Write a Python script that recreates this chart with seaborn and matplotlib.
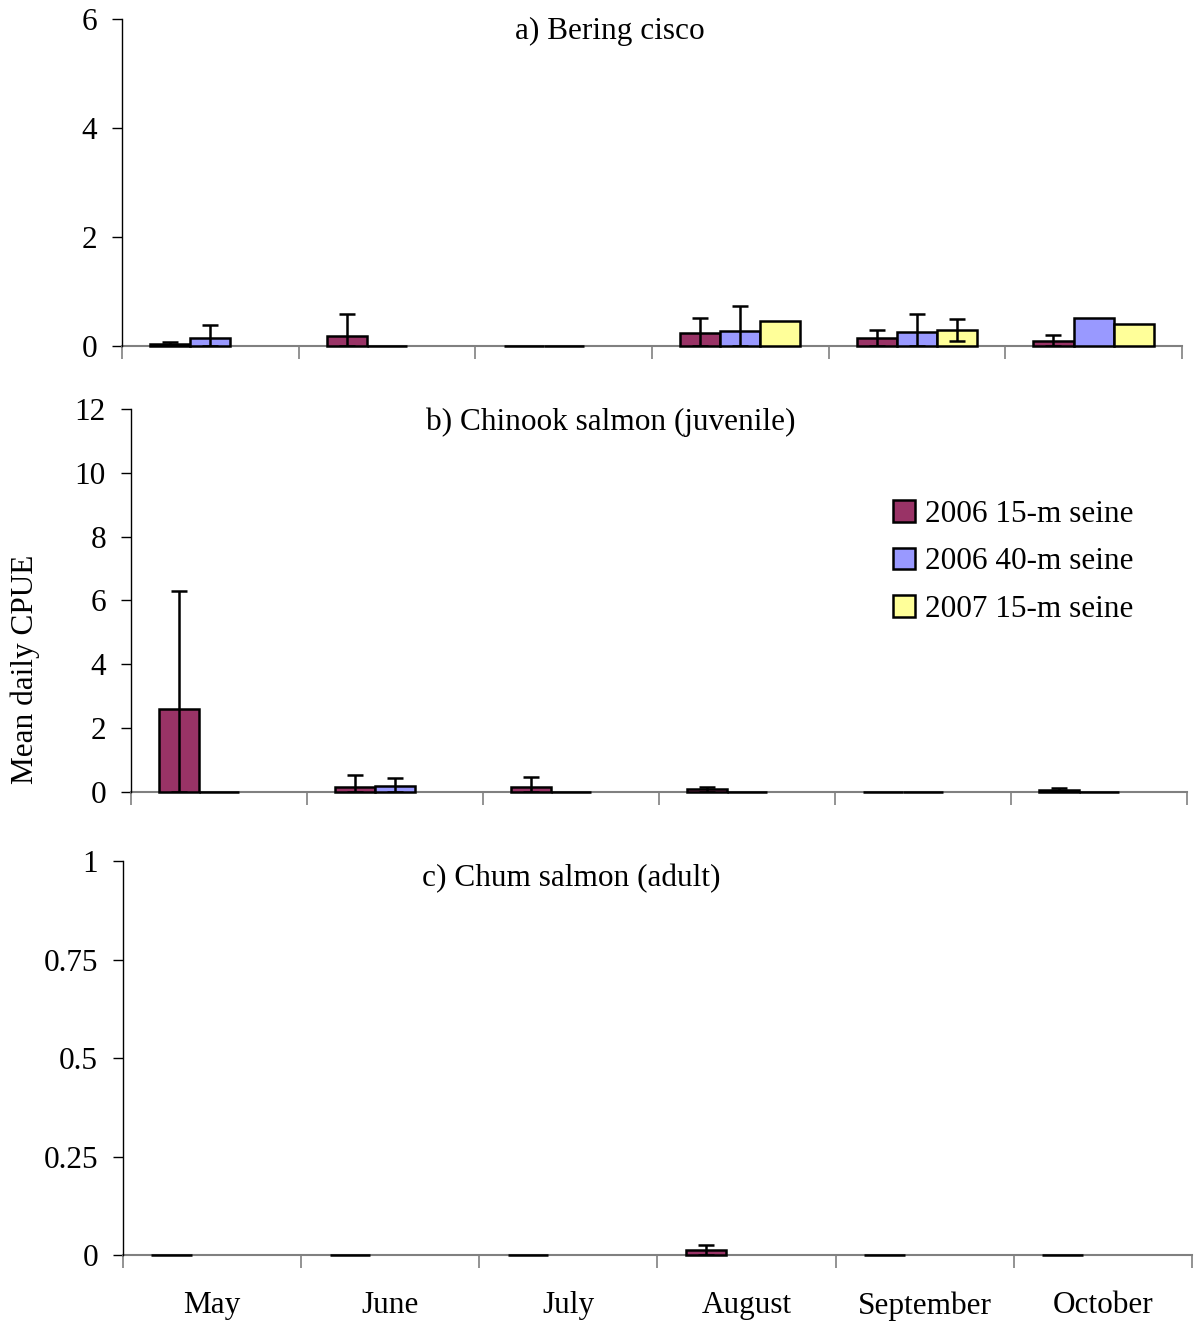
import numpy as np
import pandas as pd
import matplotlib
matplotlib.use("Agg")
import matplotlib.pyplot as plt
import matplotlib.colors as mcolors
import seaborn as sns

months = ["May", "June", "July", "August", "September", "October"]
series = ["2006 15-m seine", "2006 40-m seine", "2007 15-m seine"]
colors = ["#993366", "#9999FF", "#FFFF99"]
nan = np.nan

# a) Bering cisco
a_s1 = [0.04, 0.18, 0.0, 0.23, 0.15, 0.10]
a_s1_err = [0.035, 0.41, 0.0, 0.28, 0.15, 0.11]
a_s2 = [0.14, 0.0, 0.0, 0.28, 0.25, 0.52]
a_s2_err = [0.25, 0.0, 0.0, 0.46, 0.34, 0.0]
a_s3 = [nan, nan, nan, 0.45, 0.30, 0.41]
a_s3_err = [nan, nan, nan, 0.0, 0.20, 0.0]

# b) Chinook salmon (juvenile)
b_s1 = [2.6, 0.15, 0.14, 0.08, 0.0, 0.07]
b_s1_err = [3.7, 0.38, 0.32, 0.09, 0.0, 0.06]
b_s2 = [0.0, 0.18, 0.0, 0.0, 0.0, 0.0]
b_s2_err = [0.0, 0.27, 0.0, 0.0, 0.0, 0.0]
b_s3 = [nan, nan, nan, nan, nan, nan]
b_s3_err = [nan, nan, nan, nan, nan, nan]

# c) Chum salmon (adult)
c_s1 = [0.0, 0.0, 0.0, 0.013, 0.0, 0.0]
c_s1_err = [0.0, 0.0, 0.0, 0.012, 0.0, 0.0]
c_s2 = [nan] * 6
c_s2_err = [nan] * 6
c_s3 = [nan] * 6
c_s3_err = [nan] * 6

panels = [
    dict(title="a) Bering cisco", vals=[a_s1, a_s2, a_s3], errs=[a_s1_err, a_s2_err, a_s3_err],
         yticks=[0, 2, 4, 6], yticklabels=["0", "2", "4", "6"],
         pos=[0.1021, 0.7385, 0.8869, 0.2472], title_xy=(0.46, 0.962)),
    dict(title="b) Chinook salmon (juvenile)", vals=[b_s1, b_s2, b_s3], errs=[b_s1_err, b_s2_err, b_s3_err],
         yticks=[0, 2, 4, 6, 8, 10, 12], yticklabels=["0", "2", "4", "6", "8", "10", "12"],
         pos=[0.1096, 0.4014, 0.8837, 0.2895], title_xy=(0.4545, 0.966)),
    dict(title="c) Chum salmon (adult)", vals=[c_s1, c_s2, c_s3], errs=[c_s1_err, c_s2_err, c_s3_err],
         yticks=[0, 0.25, 0.5, 0.75, 1], yticklabels=["0", "0.25", "0.5", "0.75", "1"],
         pos=[0.1029, 0.0514, 0.8946, 0.2978], title_xy=(0.419, 0.955)),
]

sns.set_style("white")
plt.rcParams["font.family"] = ["Liberation Serif", "DejaVu Serif"]
plt.rcParams["text.color"] = "black"
plt.rcParams["xtick.labelcolor"] = "black"
plt.rcParams["ytick.labelcolor"] = "black"
FS = 22.5
rgba_list = [mcolors.to_rgba(c) for c in colors]

fig = plt.figure(figsize=(11.95, 13.23), dpi=100)

for pi, p in enumerate(panels):
    ax = fig.add_axes(p["pos"])
    rows = []
    for si, s in enumerate(series):
        for mi, m in enumerate(months):
            rows.append(dict(month=m, series=s, value=p["vals"][si][mi], err=p["errs"][si][mi]))
    df = pd.DataFrame(rows)
    dplot = df.dropna(subset=["value"])
    sns.barplot(data=dplot, x="month", y="value", hue="series", order=months,
                hue_order=series, palette=colors, width=0.68, gap=0, dodge=True,
                edgecolor="black", linewidth=1.8, errorbar=None, ax=ax,
                legend=(pi == 1), saturation=1)
    # error bars placed at each drawn bar's centre
    for bar in list(ax.patches):
        if bar.get_label() in series:
            continue
        fc = bar.get_facecolor()
        si = None
        for k, rc in enumerate(rgba_list):
            if np.allclose(fc, rc, atol=0.01):
                si = k
        if si is None:
            continue
        xc = bar.get_x() + bar.get_width() / 2
        mi = int(round(xc))
        if mi < 0 or mi > 5:
            continue
        v = p["vals"][si][mi]
        e = p["errs"][si][mi]
        if np.isnan(v) or abs(bar.get_height() - v) > 1e-9:
            continue
        bar.set_clip_on(False)
        bar.set_zorder(3)
        if not np.isnan(e) and e > 0:
            lo = min(e, v)
            ax.errorbar([xc], [v], yerr=[[lo], [e]], fmt="none",
                        ecolor="black", elinewidth=1.8, capsize=6, capthick=1.8, zorder=5)
    ax.set_xlim(-0.5, 5.5)
    ax.set_ylim(0, p["yticks"][-1])
    ax.set_yticks(p["yticks"])
    ax.set_yticklabels(p["yticklabels"], fontsize=FS, color="black")
    ax.set_xticks(np.arange(-0.5, 6, 1))
    ax.set_xticklabels([])
    ax.tick_params(axis="x", which="major", direction="out", length=9, width=1.2, color="#808080", bottom=True)
    ax.tick_params(axis="y", direction="out", length=7, width=1.0, color="black", left=True, pad=11)
    if pi == 2:
        ax.set_xticks(np.arange(6), minor=True)
        ax.set_xticklabels(months, minor=True, fontsize=FS, color="black")
        ax.tick_params(axis="x", which="minor", length=0, pad=26)
    ax.set_xlabel("")
    ax.set_ylabel("")
    for sp in ["top", "right"]:
        ax.spines[sp].set_visible(False)
    ax.spines["left"].set_color("black")
    ax.spines["left"].set_linewidth(1.0)
    ax.spines["bottom"].set_color("#808080")
    ax.spines["bottom"].set_linewidth(1.5)
    ax.spines["bottom"].set_zorder(2)
    ax.text(p["title_xy"][0], p["title_xy"][1], p["title"], transform=ax.transAxes,
            ha="center", va="center", fontsize=FS, color="black")
    if pi == 1:
        leg = ax.legend(loc="upper left", bbox_to_anchor=(0.722, 0.763), frameon=False,
                        fontsize=FS, handlelength=0.7, handleheight=0.7, handletextpad=0.3,
                        labelspacing=0.6, borderaxespad=0, borderpad=0, labelcolor="black")
        for h in leg.legend_handles:
            h.set_edgecolor("black")
            h.set_linewidth(1.8)

fig.text(25 / 1195, 1 - 669 / 1323, "Mean daily CPUE", rotation=90, ha="center", va="center",
         fontsize=FS, color="black")

fig.savefig("out.png", dpi=100)
